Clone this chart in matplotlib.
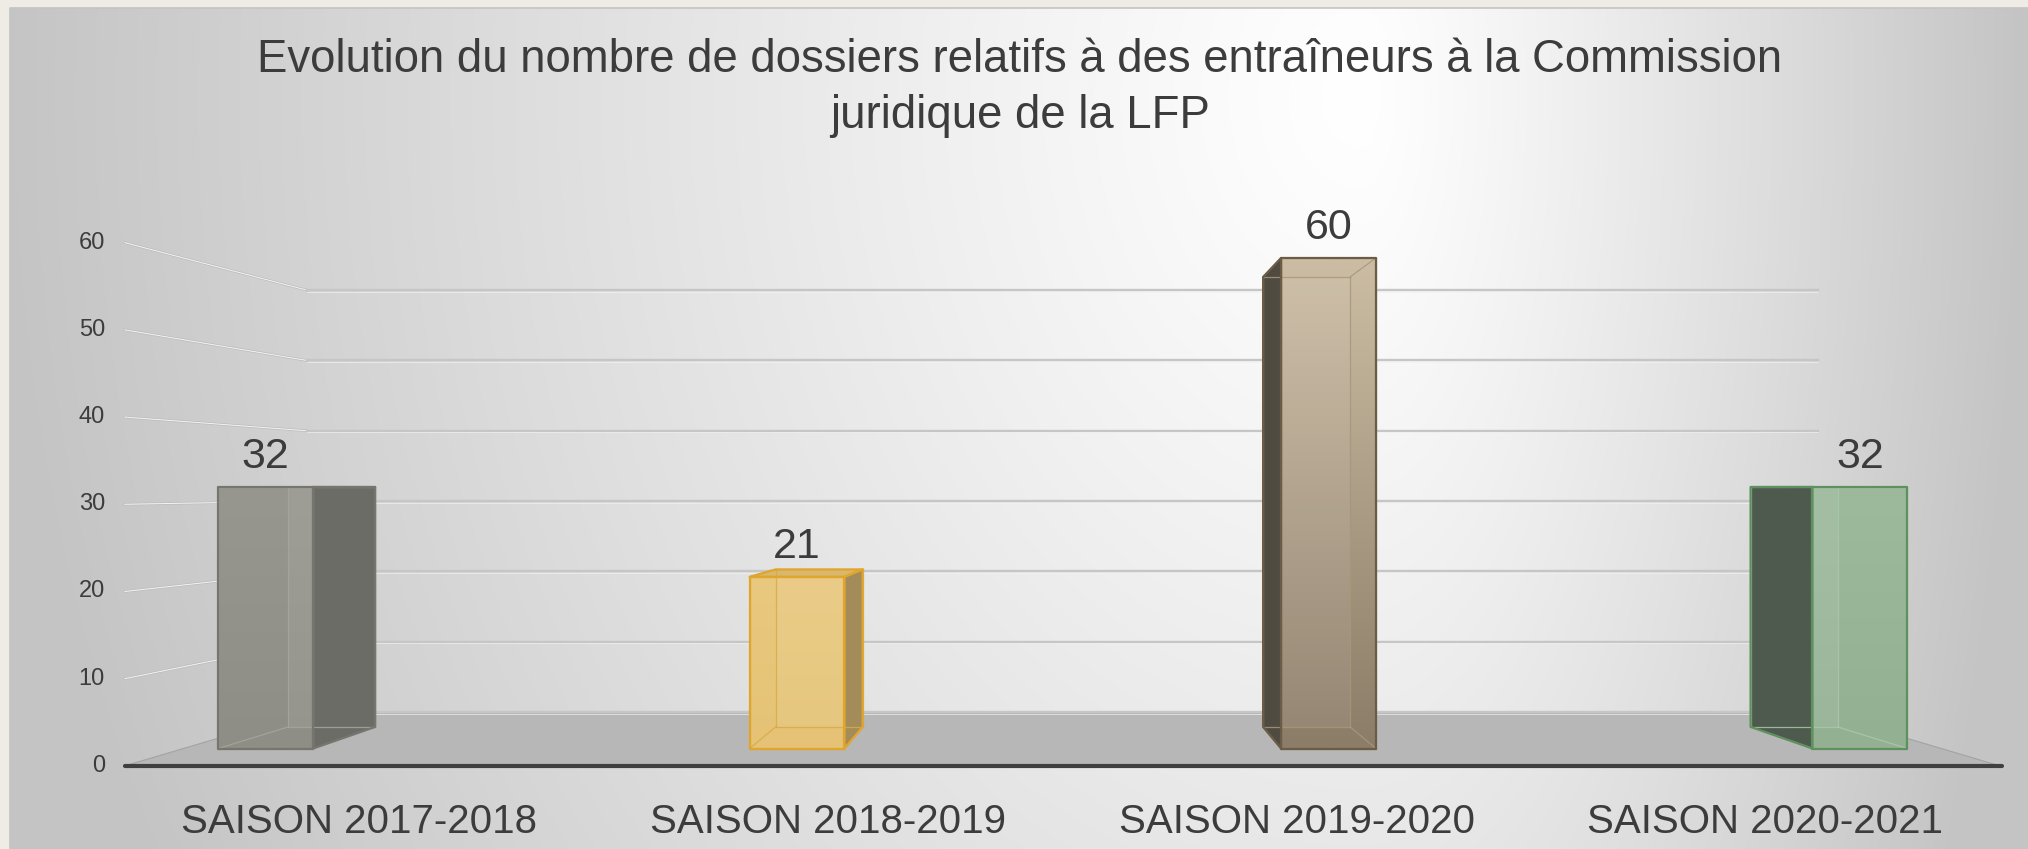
import numpy as np
import matplotlib
matplotlib.use("Agg")
import matplotlib.pyplot as plt
from matplotlib.patches import Polygon
from matplotlib.colors import to_rgb

plt.rcParams['font.family'] = ['Liberation Sans', 'DejaVu Sans']

# data
seasons = ["SAISON 2017-2018", "SAISON 2018-2019", "SAISON 2019-2020", "SAISON 2020-2021"]
dossiers = [32, 21, 60, 32]
y_ticks = [0, 10, 20, 30, 40, 50, 60]
title_lines = ["Evolution du nombre de dossiers relatifs à des entraîneurs à la Commission",
               "juridique de la LFP"]

# bar colours (front face top/bottom, side, top, edges, inner edges)
face_top = ["#97978f", "#e9c97f", "#cbbca3", "#9dba9d"]
face_bot = ["#8e8e86", "#e5c275", "#8c7d68", "#93b093"]
side_col = ["#6b6c65", "#a38c59", "#4f4b40", "#4e5a4e"]
top_col = ["#8a8a82", "#d9b76c", "#b3a48b", "#8aa88a"]
edge_col = ["#76766f", "#e0a52c", "#6b5c47", "#5f915f"]
inner_col = ["#a6a69e", "#d9ab45", "#a8977c", "#abc8ab"]

TXT = "#3c3c3c"
W, H = 2028, 849

# one-point perspective fitted to the Excel 3D view (pixels)
VX, VY = 1064.0, 487.7        # vanishing point
EYE_X, EYE_V = 107.7, 31.9    # eye position (floor units, value units)
K_FRONT, K_BACK = 8.72, 7.03  # px per unit at front edge / back wall
FLOOR_W = 215.0
BAR_T0, BAR_T1 = 0.277, 0.677
BAR_X0, BAR_STEP, BAR_HALF = 10.05, 65.0, 5.8


def scale(t):
    return 1.0 / (1.0 / K_FRONT + t * (1.0 / K_BACK - 1.0 / K_FRONT))


def proj(x, v, t):
    k = scale(t)
    return (VX + k * (x - EYE_X), VY - k * (v - EYE_V))


def shaded_poly(ax, pts, c_top, c_bot, z):
    pts = np.asarray(pts)
    patch = Polygon(pts, closed=True, facecolor="none", edgecolor="none", zorder=z)
    ax.add_patch(patch)
    x0, x1 = pts[:, 0].min(), pts[:, 0].max()
    y0, y1 = pts[:, 1].min(), pts[:, 1].max()
    g = np.linspace(0, 1, 64)[:, None, None]
    img = (1 - g) * np.array(to_rgb(c_top)) + g * np.array(to_rgb(c_bot))
    img = np.repeat(img, 2, axis=1)
    im = ax.imshow(img, extent=(x0, x1, y1, y0), origin="upper", aspect="auto",
                   interpolation="bilinear", zorder=z)
    im.set_clip_path(patch)
    return patch


fig = plt.figure(figsize=(W / 100, H / 100), dpi=100)
fig.patch.set_facecolor("#efece5")
ax = fig.add_axes([0, 0, 1, 1])
ax.set_axis_off()

# background panel gradient
yy, xx = np.mgrid[0:H:3, 10:W:3].astype(float)
cx, cy = 1360.0, 90.0
sx = np.where(xx < cx, 1360.0, 660.0)
d = np.sqrt(((xx - cx) / sx) ** 2 + ((yy - cy) / 1700.0) ** 2)
shade = 1.0 - 0.23 * np.clip(d, 0, 1) ** 1.15
ax.imshow(np.dstack([shade] * 3), extent=(10, W, H, 8), origin="upper", aspect="auto",
          interpolation="bilinear", zorder=0)
ax.plot([10, 10, W], [H, 8, 8], color="#c4c4c4", lw=1.2, zorder=0.5)

# walls gridlines
for v in y_ticks:
    fx, fy = proj(0, v, 0)
    bx, by = proj(0, v, 1)
    if v > 0:
        ax.plot([fx, bx], [fy, by], color="#bdbdbd", lw=1.8, zorder=1)
        ax.plot([fx, bx], [fy, by], color="#f4f4f4", lw=0.7, zorder=1.1)
    ax.text(105, fy, str(v), ha="right", va="center", fontsize=17, color=TXT, zorder=7)

# floor
floor = [proj(0, 0, 0), proj(FLOOR_W, 0, 0), proj(FLOOR_W, 0, 1), proj(0, 0, 1)]
ax.add_patch(Polygon(floor, closed=True, facecolor="#b7b7b7", edgecolor="none", zorder=2))
for xe in (0, FLOOR_W):
    p0, p1 = proj(xe, 0, 0), proj(xe, 0, 1)
    ax.plot([p0[0], p1[0]], [p0[1], p1[1]], color="#a3a3a3", lw=0.8, zorder=2.1)

for v in y_ticks:
    bx, by = proj(0, v, 1)
    ex, ey = proj(FLOOR_W, v, 1)
    ax.plot([bx, ex], [by, ey], color="#c6c6c6", lw=1.7, zorder=2.2)
    ax.plot([bx, ex], [by + 1.6, ey + 1.6], color="#f2f2f2", lw=0.6, alpha=0.8, zorder=2.2)

p0, p1 = proj(0, 0, 0), proj(FLOOR_W, 0, 0)
ax.plot([p0[0], p1[0] + 2], [p0[1], p1[1]], color="#3f3f3f", lw=3.0,
        solid_capstyle="round", zorder=2.5)

# bars as perspective boxes
edges = [("lbf", "rbf"), ("rbf", "rtf"), ("rtf", "ltf"), ("ltf", "lbf"),
         ("lbk", "rbk"), ("rbk", "rtk"), ("rtk", "ltk"), ("ltk", "lbk"),
         ("lbf", "lbk"), ("rbf", "rbk"), ("rtf", "rtk"), ("ltf", "ltk")]
for i, val in enumerate(dossiers):
    xl = BAR_X0 + i * BAR_STEP - BAR_HALF
    xr = xl + 2 * BAR_HALF
    c = {}
    for a, x in (("l", xl), ("r", xr)):
        for b, vv in (("b", 0), ("t", val)):
            for dd, t in (("f", BAR_T0), ("k", BAR_T1)):
                c[a + b + dd] = proj(x, vv, t)
    front = [c["lbf"], c["rbf"], c["rtf"], c["ltf"]]
    back = [c["lbk"], c["rbk"], c["rtk"], c["ltk"]]
    faces = []
    if xr < EYE_X:
        faces.append(([c["rbf"], c["rbk"], c["rtk"], c["rtf"]], side_col[i]))
    elif xl > EYE_X:
        faces.append(([c["lbf"], c["lbk"], c["ltk"], c["ltf"]], side_col[i]))
    if val < EYE_V:
        faces.append(([c["ltf"], c["rtf"], c["rtk"], c["ltk"]], top_col[i]))
    z = 3 + i * 0.01
    for pts, col in faces:
        ax.add_patch(Polygon(pts, closed=True, facecolor=col, edgecolor="none", zorder=z))
    fpatch = shaded_poly(ax, front, face_top[i], face_bot[i], z + 0.001)
    # back face seen through the translucent front
    glow = Polygon(back, closed=True, facecolor="white", edgecolor="none", alpha=0.07,
                   zorder=z + 0.0015)
    ax.add_patch(glow)
    glow.set_clip_path(fpatch)
    for a, b in edges:
        ax.plot([c[a][0], c[b][0]], [c[a][1], c[b][1]], color=inner_col[i], lw=0.9,
                alpha=0.85, zorder=z + 0.002)
    for pts in [front] + [f[0] for f in faces]:
        ax.add_patch(Polygon(pts, closed=True, facecolor="none", edgecolor=edge_col[i],
                             lw=1.6, joinstyle="round", zorder=z + 0.003))
    lx = (c["lbf"][0] + c["rbf"][0]) / 2
    ax.text(lx, c["ltf"][1] - 19, str(val), ha="center", va="baseline", fontsize=31,
            color=TXT, zorder=7)

# category labels
for i, s in enumerate(seasons):
    x, _ = proj((i + 0.5) * FLOOR_W / len(seasons), 0, 0)
    ax.text(x, 833, s, ha="center", va="baseline", fontsize=29, color=TXT, zorder=7)

# title
ax.text(1020, 72, title_lines[0], ha="center", va="baseline", fontsize=32.8, color=TXT, zorder=7)
ax.text(1020, 128, title_lines[1], ha="center", va="baseline", fontsize=32.8, color=TXT, zorder=7)

ax.set_xlim(0, W)
ax.set_ylim(H, 0)
fig.savefig("out.png", dpi=100, facecolor=fig.get_facecolor())
